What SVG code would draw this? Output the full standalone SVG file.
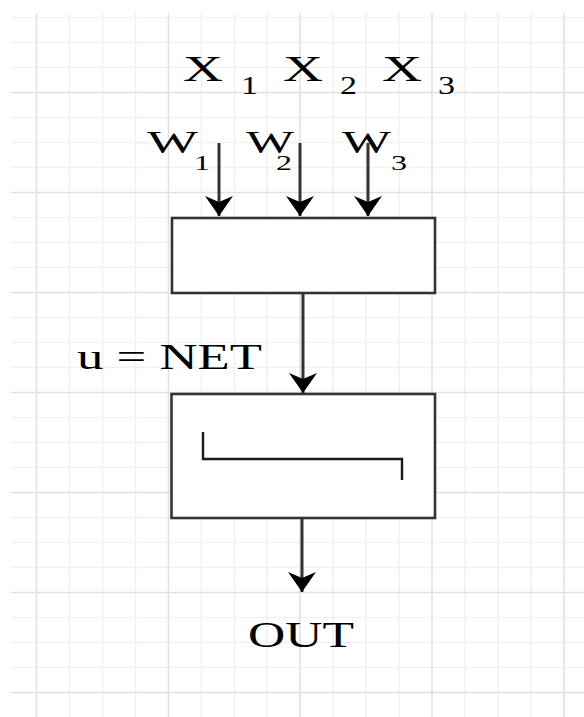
<svg xmlns="http://www.w3.org/2000/svg" width="584" height="717" viewBox="0 0 584 717">
  <style>
    .minor { stroke: #f1f1f1; stroke-width: 1.5; fill: none; }
    .major { stroke: #e1e1e1; stroke-width: 1.5; fill: none; }
    .box { fill: #ffffff; stroke: #333333; stroke-width: 2.6; }
    .step { fill: none; stroke: #1a1a1a; stroke-width: 2.4; }
    .conn { stroke: #333333; stroke-width: 3; fill: none; }
    .t { font-family: "Liberation Serif", "Times New Roman", serif; fill: #000000; }
    .big { font-size: 36px; }
    .w { font-size: 32px; }
    .sub { font-size: 25px; }
    .wsub { font-size: 22px; }
  </style>
  <defs>
    <marker id="arrow" markerUnits="userSpaceOnUse" markerWidth="20" markerHeight="28" refX="20" refY="14" orient="auto" viewBox="0 0 20 28">
      <path d="M0,0 L20,14 L0,28 L6,14 Z" fill="#000000"/>
    </marker>
  </defs>
  <rect x="0" y="0" width="584" height="717" fill="#ffffff"/>
  <g id="grid">
    <path class="minor" d="M69.5,13V717 M102.5,13V717 M135.5,13V717 M201.5,13V717 M234.5,13V717 M267,13V717 M333,13V717 M366,13V717 M399,13V717 M465,13V717 M498,13V717 M531,13V717
      M11,17.5H584 M11,42.5H584 M11,67.5H584 M11,117.5H584 M11,142.5H584 M11,167.5H584 M11,217.5H584 M11,242.5H584 M11,267.5H584 M11,317.5H584 M11,342.5H584 M11,367.5H584 M11,417.5H584 M11,442.5H584 M11,467.5H584 M11,517.5H584 M11,542.5H584 M11,567.5H584 M11,617.5H584 M11,642.5H584 M11,667.5H584"/>
    <path class="major" d="M36.5,13V717 M168.5,13V717 M300,13V717 M432,13V717 M564,13V717
      M11,92.5H584 M11,192.5H584 M11,292.5H584 M11,392.5H584 M11,492.5H584 M11,592.5H584 M11,692.5H584"/>
  </g>
  <g id="inputs">
    <text class="t big" x="183" y="81" textLength="40" lengthAdjust="spacingAndGlyphs">X</text>
    <text class="t sub" x="241" y="94" textLength="17" lengthAdjust="spacingAndGlyphs">1</text>
    <text class="t big" x="283" y="81" textLength="40" lengthAdjust="spacingAndGlyphs">X</text>
    <text class="t sub" x="340" y="94" textLength="17" lengthAdjust="spacingAndGlyphs">2</text>
    <text class="t big" x="382" y="81" textLength="40" lengthAdjust="spacingAndGlyphs">X</text>
    <text class="t sub" x="438" y="94" textLength="17" lengthAdjust="spacingAndGlyphs">3</text>
  </g>
  <g id="weights">
    <text class="t w" x="147" y="153" textLength="51" lengthAdjust="spacingAndGlyphs">W</text>
    <text class="t wsub" x="194" y="170" textLength="16" lengthAdjust="spacingAndGlyphs">1</text>
    <text class="t w" x="246" y="153" textLength="48" lengthAdjust="spacingAndGlyphs">W</text>
    <text class="t wsub" x="276" y="170" textLength="16" lengthAdjust="spacingAndGlyphs">2</text>
    <text class="t w" x="342" y="153" textLength="49" lengthAdjust="spacingAndGlyphs">W</text>
    <text class="t wsub" x="391" y="170" textLength="16" lengthAdjust="spacingAndGlyphs">3</text>
  </g>
  <g id="summation">
    <rect class="box" x="172" y="218" width="263" height="75"/>
  </g>
  <g id="activation">
    <rect class="box" x="171.5" y="394" width="263.5" height="124"/>
    <path class="step" d="M203,432 V459 H402 V480"/>
  </g>
  <g id="net-label">
    <text class="t big" x="77" y="369" textLength="185" lengthAdjust="spacingAndGlyphs">u = NET</text>
  </g>
  <g id="out-label">
    <text class="t big" x="248" y="647" textLength="106" lengthAdjust="spacingAndGlyphs">OUT</text>
  </g>
  <g id="connectors">
    <line class="conn" x1="219" y1="143" x2="219" y2="216" marker-end="url(#arrow)"/>
    <line class="conn" x1="300" y1="143" x2="300" y2="216" marker-end="url(#arrow)"/>
    <line class="conn" x1="368" y1="143" x2="368" y2="216" marker-end="url(#arrow)"/>
    <line class="conn" x1="303" y1="293" x2="303" y2="393" marker-end="url(#arrow)"/>
    <line class="conn" x1="302" y1="518" x2="302" y2="592" marker-end="url(#arrow)"/>
  </g>
</svg>
